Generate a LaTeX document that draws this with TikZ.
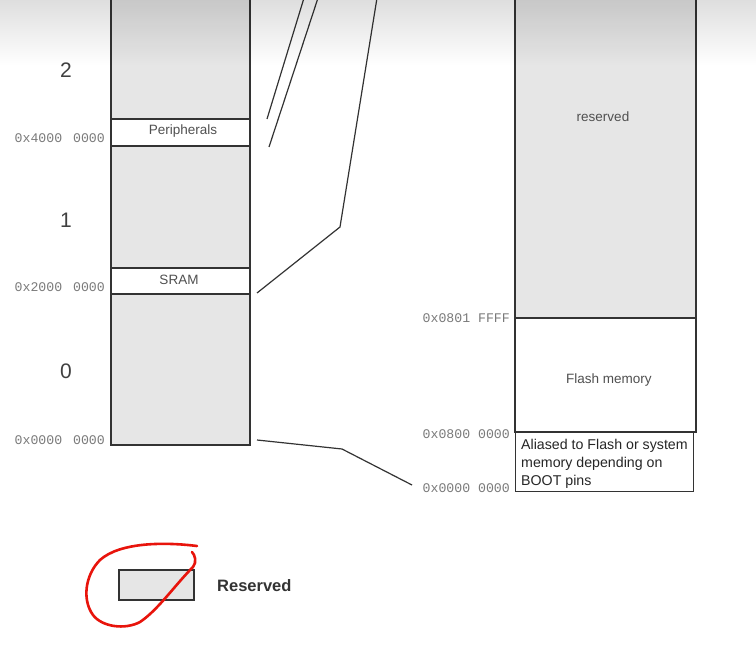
\documentclass[tikz,border=0pt]{standalone}
\usepackage{fontspec}
\setmainfont{Liberation Sans}
\newfontfamily\addrfont{Liberation Mono}
\usetikzlibrary{fadings}
\definecolor{resgray}{HTML}{E6E6E6}
\definecolor{edge}{HTML}{333333}
\definecolor{addr}{HTML}{7A7A7A}
\definecolor{txt}{HTML}{505050}
\definecolor{pen}{HTML}{E8140C}
\newcommand{\addrgap}{\hspace{3pt}}
\begin{document}
\begin{tikzpicture}[x=1pt,y=-1pt,
  region/.style={draw=edge, line width=1.8pt, anchor=north west, inner sep=0pt},
  reserved/.style={region, fill=resgray},
  used/.style={region, fill=white},
  addrlbl/.style={anchor=east, font=\addrfont\fontsize{13.2}{14}\selectfont, text=addr, inner sep=0pt},
  seglbl/.style={font=\fontsize{13.5}{15}\selectfont, text=txt, inner sep=0pt},
  numlbl/.style={font=\fontsize{21}{24}\selectfont, text=black!75, inner sep=0pt},
  link/.style={draw=black!80, line width=1.2pt}]
\useasboundingbox (0,0) rectangle (756,650);
\fill[white] (0,0) rectangle (756,650);

% left column
\node[reserved, minimum width=139pt, minimum height=123pt] (L2) at (110,-5) {};
\node[used, minimum width=139pt, minimum height=27pt] (per) at (110,118) {};
\node[reserved, minimum width=139pt, minimum height=122pt] (L1) at (110,145) {};
\node[used, minimum width=139pt, minimum height=26pt] (sram) at (110,267) {};
\node[reserved, minimum width=139pt, minimum height=151pt] (L0) at (110,293) {};
\node[seglbl] at (183,131) {Peripherals};
\node[seglbl] at (179,280) {SRAM};
\node[numlbl] (n2) at (66,70) {2};
\node[numlbl] (n1) at (66,220) {1};
\node[numlbl] (n0) at (66,371) {0};
\node[addrlbl] (a4) at (105,138) {0x4000\addrgap{} 0000};
\node[addrlbl] (a2) at (105,287) {0x2000\addrgap{} 0000};
\node[addrlbl] (a0) at (105,440) {0x0000\addrgap{} 0000};

% right column
\node[reserved, minimum width=181pt, minimum height=322pt] (R) at (514,-5) {};
\node[used, minimum width=181pt, minimum height=114pt] (flash) at (514,317) {};
\node[used, minimum width=178pt, minimum height=59pt, line width=1.3pt] (alias) at (515,432) {};
\node[seglbl] at (603,117) {reserved};
\node[seglbl] at (609,380) {Flash memory};
\node[seglbl, anchor=north west, align=left, text=black!85, font=\fontsize{14.2}{18}\selectfont] at (521,439)
  {Aliased to Flash or system\\memory depending on\\BOOT pins};
\node[addrlbl] (f1) at (510,318) {0x0801 FFFF};
\node[addrlbl] (f0) at (510,434) {0x0800 0000};
\node[addrlbl] (z0) at (510,488) {0x0000 0000};

% connectors
\coordinate (p1a) at (267,119); \coordinate (p1b) at (304,-2);
\coordinate (p2a) at (269,147); \coordinate (p2b) at (318,-2);
\coordinate (sa) at (257,293); \coordinate (sk) at (340,227); \coordinate (sb) at (377,-2);
\coordinate (za) at (257,440); \coordinate (zk) at (342,449); \coordinate (zb) at (412,485);
\draw[link] (p1a) -- (p1b);
\draw[link] (p2a) -- (p2b);
\draw[link] (sa) -- (sk) -- (sb);
\draw[link] (za) -- (zk) -- (zb);

% legend
\node[reserved, line width=1.5pt, minimum width=75pt, minimum height=30pt] (leg) at (118,569) {};
\node[anchor=west, font=\bfseries\fontsize{16.5}{18}\selectfont, text=black!80, inner sep=0pt] (legt) at (217,586) {Reserved};

% hand-drawn red mark
\draw[pen, line width=2.6pt, line cap=round, line join=round]
  (197,546) .. controls (165,542) and (120,542) .. (100,560)
  .. controls (85,575) and (82,600) .. (93,615)
  .. controls (102,627) and (125,630) .. (140,622)
  .. controls (158,610) and (175,585) .. (193,567)
  .. controls (197,562) and (195,555) .. (192,552);

% top shadow
\fill[black, opacity=0.13, path fading=south] (0,0) rectangle (756,65);
\end{tikzpicture}
\end{document}
